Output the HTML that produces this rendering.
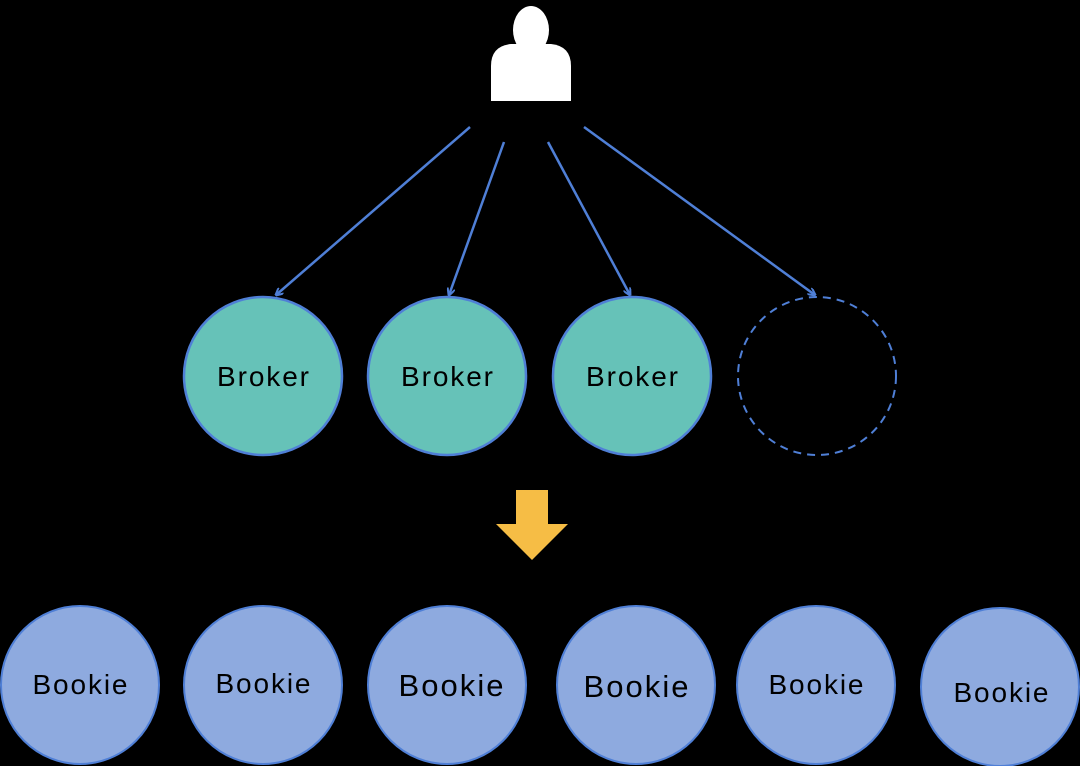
<!DOCTYPE html>
<html><head><style>body{margin:0;background:#000}svg{display:block}</style></head><body>
<svg width="1080" height="766" viewBox="0 0 1080 766" xmlns="http://www.w3.org/2000/svg">
<defs><marker id="a" markerWidth="8" markerHeight="8" refX="7" refY="4" orient="auto" markerUnits="userSpaceOnUse"><path d="M0,0 L8,4 L0,8" fill="none" stroke="#4f7fd6" stroke-width="2"/></marker></defs>
<rect width="1080" height="766" fill="#000"/>
<ellipse cx="531" cy="30" rx="18" ry="24" fill="#fff"/>
<path d="M491,101 L491,66 Q491,46 511,44 L551,44 Q571,46 571,66 L571,101 Z" fill="#fff"/>
<g stroke="#4f7fd6" stroke-width="2.5" fill="none" marker-end="url(#a)">
<line x1="470" y1="127" x2="276" y2="295"/>
<line x1="504" y1="142" x2="449" y2="295"/>
<line x1="548" y1="142" x2="630" y2="295"/>
<line x1="584" y1="127" x2="815" y2="295"/>
</g>
<g fill="#66c2b8" stroke="#4f7fd6" stroke-width="2.5">
<circle cx="263" cy="376" r="79"/><circle cx="447" cy="376" r="79"/><circle cx="632" cy="376" r="79"/>
</g>
<circle cx="817" cy="376" r="79" fill="none" stroke="#4f7fd6" stroke-width="2" stroke-dasharray="8,6"/>
<g font-family="Liberation Sans, sans-serif" font-size="28" fill="#000" text-anchor="middle">
<text x="263" y="386" textLength="92">Broker</text><text x="447" y="386" textLength="92">Broker</text><text x="632" y="386" textLength="92">Broker</text>
</g>
<path d="M516,490 L548,490 L548,524 L568,524 L532,560 L496,524 L516,524 Z" fill="#f6bd45"/>
<g fill="#8eaadf" stroke="#4f7fd6" stroke-width="2">
<circle cx="80" cy="685" r="79"/><circle cx="263" cy="685" r="79"/><circle cx="447" cy="685" r="79"/>
<circle cx="636" cy="685" r="79"/><circle cx="816" cy="685" r="79"/><circle cx="1000" cy="687" r="79"/>
</g>
<g font-family="Liberation Sans, sans-serif" fill="#000" text-anchor="middle">
<text x="80" y="694" font-size="28" textLength="95">Bookie</text>
<text x="263" y="693" font-size="28" textLength="95">Bookie</text>
<text x="451" y="696" font-size="31" textLength="105">Bookie</text>
<text x="636" y="697" font-size="31" textLength="105">Bookie</text>
<text x="816" y="694" font-size="28" textLength="95">Bookie</text>
<text x="1001" y="702" font-size="28" textLength="95">Bookie</text>
</g>
</svg>
</body></html>
